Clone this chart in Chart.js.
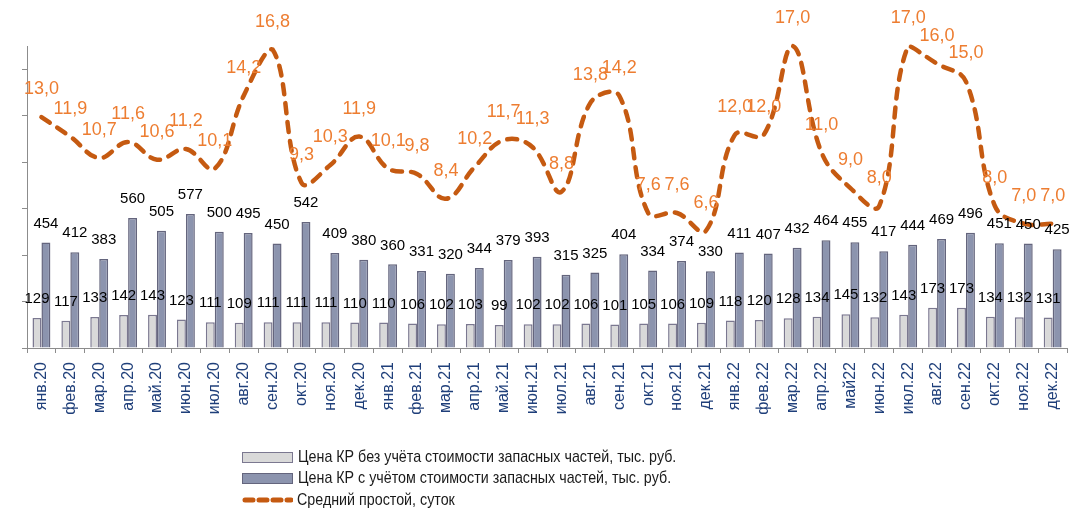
<!DOCTYPE html>
<html>
<head>
<meta charset="utf-8">
<script src="https://cdn.jsdelivr.net/npm/chart.js@4"></script>
<style>
  html, body { margin: 0; padding: 0; background: #fff; }
  #wrap { position: relative; width: 1081px; height: 518px; }
  #c { position: absolute; left: 0; top: 0; }
  .leg { position: absolute; left: 242px; font-family: "Liberation Sans", Arial, sans-serif; font-size: 17px; color: #1a1a1a; white-space: nowrap; }
  .row { position: absolute; left: 0; height: 20px; display: flex; align-items: center; }
  .row span { display: inline-block; transform: scaleX(0.84); transform-origin: left center; }
  .sw { width: 49px; height: 9px; margin-right: 5px; box-sizing: content-box; }
  .sw1 { background: #D9D9D9; border: 1px solid #7B7890; }
  .sw2 { background: #8C94AE; border: 1px solid #64657D; }
</style>
</head>
<body>
<div id="wrap">
  <canvas id="c" width="1081" height="518"></canvas>
  <div class="leg" style="top:447px;">
    <div class="row" style="top:0px;"><div class="sw sw1"></div><span>Цена КР без учёта стоимости запасных частей, тыс. руб.</span></div>
    <div class="row" style="top:21px;"><div class="sw sw2"></div><span>Цена КР с учётом стоимости запасных частей, тыс. руб.</span></div>
    <div class="row" style="top:43px;"><svg width="51" height="10" style="margin-right:4px"><line x1="3" y1="5" x2="49" y2="5" stroke="#C55A11" stroke-width="5" stroke-linecap="round" stroke-dasharray="8 6"/></svg><span>Средний простой, суток</span></div>
  </div>
</div>
<script>
const categories = ['янв.20','фев.20','мар.20','апр.20','май.20','июн.20','июл.20','авг.20','сен.20','окт.20','ноя.20','дек.20',
  'янв.21','фев.21','мар.21','апр.21','май.21','июн.21','июл.21','авг.21','сен.21','окт.21','ноя.21','дек.21',
  'янв.22','фев.22','мар.22','апр.22','май22','июн.22','июл.22','авг.22','сен.22','окт.22','ноя.22','дек.22'];
const priceWithoutParts = [129,117,133,142,143,123,111,109,111,111,111,110,
  110,106,102,103,99,102,102,106,101,105,106,109,
  118,120,128,134,145,132,143,173,173,134,132,131];
const priceWithParts = [454,412,383,560,505,577,500,495,450,542,409,380,
  360,331,320,344,379,393,315,325,404,334,374,330,
  411,407,432,464,455,417,444,469,496,451,450,425];
const avgDowntime = [13.0,11.9,10.7,11.6,10.6,11.2,10.1,14.2,16.8,9.3,10.3,11.9,
  10.1,9.8,8.4,10.2,11.7,11.3,8.8,13.8,14.2,7.6,7.6,6.6,
  12.0,12.0,17.0,11.0,9.0,8.0,17.0,16.0,15.0,8.0,7.0,7.0];

const labelPlugin = {
  id: 'valueLabels',
  afterDatasetsDraw(chart) {
    const ctx = chart.ctx;
    ctx.save();
    ctx.textAlign = 'center';
    ctx.textBaseline = 'middle';
    [0, 1, 2].forEach(i => {
      const ds = chart.data.datasets[i];
      const meta = chart.getDatasetMeta(i);
      meta.data.forEach((el, j) => {
        const v = ds.data[j];
        if (ds.type === 'line') {
          ctx.font = '18px "Liberation Sans", Arial, sans-serif';
          ctx.fillStyle = '#ED7D31';
          ctx.fillText(v.toFixed(1).replace('.', ','), el.x, el.y - 28);
        } else {
          ctx.font = '15px "Liberation Sans", Arial, sans-serif';
          ctx.fillStyle = '#000';
          ctx.fillText(String(v), el.x, el.y - 19);
        }
      });
    });
    ctx.restore();
  }
};

new Chart(document.getElementById('c'), {
  type: 'bar',
  data: {
    labels: categories,
    datasets: [
      {
        label: 'Цена КР без учёта стоимости запасных частей, тыс. руб.',
        data: priceWithoutParts,
        backgroundColor: '#D9D9D9',
        borderColor: '#7B7890',
        borderWidth: 1.5,
        yAxisID: 'y',
        order: 1,
        categoryPercentage: 0.62,
        barPercentage: 1.0
      },
      {
        label: 'Цена КР с учётом стоимости запасных частей, тыс. руб.',
        data: priceWithParts,
        backgroundColor: '#8C94AE',
        borderColor: '#64657D',
        borderWidth: 1.5,
        yAxisID: 'y',
        order: 1,
        categoryPercentage: 0.62,
        barPercentage: 1.0
      },
      {
        type: 'line',
        label: 'Средний простой, суток',
        data: avgDowntime,
        borderColor: '#C55A11',
        borderWidth: 4.5,
        borderDash: [10, 9],
        borderCapStyle: 'round',
        tension: 0.4,
        pointRadius: 0,
        fill: false,
        clip: false,
        yAxisID: 'y1',
        order: 0
      }
    ]
  },
  options: {
    responsive: false,
    animation: false,
    layout: { padding: { top: 46, right: 11, left: 0, bottom: 0 } },
    plugins: { legend: { display: false }, tooltip: { enabled: false } },
    scales: {
      x: {
        grid: { display: true, drawOnChartArea: false, drawTicks: true, tickLength: 5, color: '#8c8c8c', offset: true },
        border: { display: true, color: '#8c8c8c', width: 1 },
        ticks: {
          minRotation: 90, maxRotation: 90, padding: 9, autoSkip: false,
          color: '#1F3F7A',
          font: { family: '"Liberation Sans", Arial, sans-serif', size: 16 }
        },
        afterFit(s) { s.height = 170; }
      },
      y: {
        position: 'left',
        min: 0, max: 1300,
        ticks: { stepSize: 200, display: false },
        afterBuildTicks(s) { s.ticks = s.ticks.filter(t => t.value <= 1200); },
        grid: { display: true, drawOnChartArea: false, drawTicks: true, tickLength: 5, color: '#8c8c8c' },
        border: { display: true, color: '#8c8c8c', width: 1 },
        afterFit(s) { s.width = 27; }
      },
      y1: {
        position: 'right',
        display: false,
        min: 0, max: 17
      }
    }
  },
  plugins: [labelPlugin]
});
</script>
</body>
</html>
